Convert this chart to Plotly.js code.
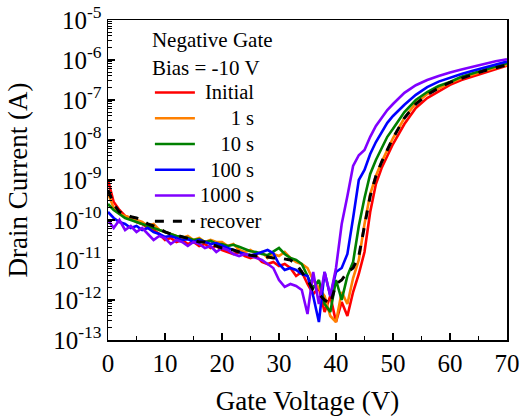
<!DOCTYPE html>
<html>
<head>
<meta charset="utf-8">
<script src="https://cdn.plot.ly/plotly-3.0.1.min.js"></script>
<style>html,body{margin:0;padding:0;background:#fff;}#chart{width:520px;height:416px;}</style>
</head>
<body>
<div id="chart"></div>
<script>
// Gate voltage (V)
const gateVoltage = [0,1,2,3,4,5,6,7,8,9,10,11,12,13,14,15,16,17,18,19,20,21,22,23,24,25,26,27,28,29,30,31,32,33,34,35,36,37,38,39,40,41,42,43,44,45,46,47,48,49,50,52,54,56,58,60,62,64,66,68,70];

// log10 of drain current (A)
const initialLog = [-9.0,-9.55,-9.75,-9.9,-9.95,-10.05,-10.1,-10.2,-10.25,-10.35,-10.5,-10.45,-10.55,-10.5,-10.6,-10.55,-10.65,-10.6,-10.7,-10.65,-10.75,-10.8,-10.85,-10.8,-10.9,-10.95,-10.9,-11.05,-11.1,-11.05,-11.15,-11.1,-11.2,-11.4,-11.3,-11.6,-11.85,-11.7,-12.3,-11.9,-12.55,-12.05,-12.4,-11.8,-11.35,-10.8,-9.8,-9.1,-8.7,-8.4,-8.1,-7.6,-7.2,-6.95,-6.78,-6.62,-6.5,-6.41,-6.31,-6.22,-6.14];
const s1Log = [-9.33,-9.7,-9.85,-9.9,-9.95,-10.0,-10.05,-10.15,-10.1,-10.25,-10.3,-10.35,-10.4,-10.45,-10.4,-10.5,-10.45,-10.55,-10.5,-10.55,-10.55,-10.65,-10.6,-10.75,-10.8,-10.75,-10.85,-10.8,-10.95,-10.85,-10.9,-10.8,-10.95,-11.05,-11.1,-11.2,-11.5,-11.7,-11.9,-12.4,-12.55,-11.8,-12.1,-11.45,-11.0,-10.1,-9.35,-8.9,-8.55,-8.25,-7.95,-7.45,-7.08,-6.85,-6.7,-6.57,-6.45,-6.36,-6.27,-6.19,-6.12];
const s10Log = [-9.6,-9.75,-9.85,-9.95,-10.0,-10.05,-10.1,-10.15,-10.2,-10.25,-10.3,-10.35,-10.4,-10.42,-10.45,-10.5,-10.48,-10.55,-10.52,-10.6,-10.6,-10.65,-10.62,-10.67,-10.72,-10.78,-10.8,-10.85,-10.88,-10.8,-10.7,-10.85,-10.95,-11.0,-11.1,-11.4,-11.7,-11.5,-12.1,-12.3,-11.5,-12.0,-11.4,-11.05,-10.15,-9.45,-8.85,-8.5,-8.2,-7.92,-7.72,-7.3,-7.0,-6.8,-6.65,-6.55,-6.42,-6.33,-6.24,-6.16,-6.08];
const s100Log = [-9.8,-9.95,-10.05,-10.1,-10.2,-10.15,-10.25,-10.2,-10.3,-10.35,-10.42,-10.4,-10.45,-10.5,-10.48,-10.55,-10.5,-10.55,-10.6,-10.58,-10.65,-10.7,-10.75,-10.8,-10.85,-10.88,-10.85,-10.8,-10.75,-10.83,-11.1,-11.25,-11.2,-11.25,-11.35,-11.4,-11.9,-12.55,-11.3,-11.9,-11.3,-11.2,-10.85,-9.95,-9.0,-8.75,-8.35,-8.05,-7.8,-7.57,-7.4,-7.12,-6.87,-6.68,-6.54,-6.44,-6.35,-6.27,-6.19,-6.11,-6.04];
const s1000Log = [-10.0,-10.2,-10.0,-10.25,-10.15,-10.3,-10.2,-10.35,-10.5,-10.4,-10.45,-10.6,-10.5,-10.55,-10.65,-10.55,-10.6,-10.7,-10.65,-10.8,-10.7,-10.75,-10.85,-10.9,-10.85,-10.9,-10.95,-11.0,-11.1,-11.2,-11.5,-11.67,-11.6,-11.65,-11.75,-12.35,-11.3,-12.1,-11.3,-11.9,-11.2,-10.1,-9.4,-8.65,-8.38,-8.25,-7.92,-7.65,-7.45,-7.25,-7.1,-6.82,-6.63,-6.5,-6.4,-6.31,-6.24,-6.17,-6.09,-6.03,-5.98];
const recoverLog = [-9.25,-9.6,-9.8,-9.85,-9.92,-9.95,-10.0,-10.1,-10.15,-10.2,-10.3,-10.35,-10.38,-10.42,-10.45,-10.5,-10.55,-10.55,-10.6,-10.65,-10.7,-10.72,-10.75,-10.8,-10.85,-10.88,-10.9,-10.9,-10.92,-10.95,-10.95,-10.97,-11.0,-11.1,-11.3,-11.5,-11.75,-11.85,-12.0,-12.1,-11.6,-11.5,-11.3,-11.2,-10.9,-10.15,-9.4,-8.9,-8.55,-8.25,-7.95,-7.45,-7.1,-6.87,-6.7,-6.56,-6.45,-6.36,-6.27,-6.19,-6.12];

const seriesNames = ['\u00a0Initial','\u00a0\u00a0\u00a0\u00a0\u00a0\u00a01 s','\u00a0\u00a0\u00a0\u00a010 s','\u00a0\u00a0100 s','1000 s','recover'];
const seriesLogs = [initialLog, s1Log, s10Log, s100Log, s1000Log, recoverLog];
const seriesColors = ['#ff0000','#ff8000','#008000','#0000ff','#8000ff','#000000'];
const seriesDash = ['solid','solid','solid','solid','solid','dash'];

const yTickVals = [1e-13,1e-12,1e-11,1e-10,1e-9,1e-8,1e-7,1e-6,1e-5];
const yTickText = ['10<sup>-13</sup>','10<sup>-12</sup>','10<sup>-11</sup>','10<sup>-10</sup>','10<sup>-9</sup>','10<sup>-8</sup>','10<sup>-7</sup>','10<sup>-6</sup>','10<sup>-5</sup>'];

const FONT = '"Liberation Serif", "Times New Roman", serif';

const traces = seriesLogs.map((arr, i) => ({
  x: gateVoltage,
  y: arr.map(v => Math.pow(10, v)),
  type: 'scatter',
  mode: 'lines',
  name: '<span style="font-size:20.5px">' + seriesNames[i] + '</span>',
  line: {color: seriesColors[i], width: i === 5 ? 3 : 2.6, dash: seriesDash[i]}
}));

const layout = {
  width: 520, height: 416,
  margin: {l: 108, r: 13, t: 20, b: 76},
  paper_bgcolor: '#fff', plot_bgcolor: '#fff',
  font: {family: FONT, color: '#000', size: 22},
  showlegend: true,
  legend: {
    x: 0.105, y: 1.0, xanchor: 'left', yanchor: 'top',
    bgcolor: 'rgba(0,0,0,0)',
    font: {family: FONT, size: 17.5, color: '#000'},
    title: {text: 'Negative Gate<br>Bias = -10 V', font: {family: FONT, size: 21, color: '#000'}},
    itemwidth: 40,
    tracegroupgap: 0
  },
  xaxis: {
    range: [0, 70],
    tickvals: [0,10,20,30,40,50,60,70],
    ticks: 'inside', ticklen: 7, tickwidth: 1.2, tickcolor: '#000',
    showline: true, linecolor: '#000', linewidth: 1.5, mirror: true,
    showgrid: false, zeroline: false,
    tickfont: {family: FONT, size: 25, color: '#000'},
    minor: {ticks: 'inside', ticklen: 4, dtick: 5, tickcolor: '#000', tickwidth: 1},
    title: {text: 'Gate Voltage (V)', font: {family: FONT, size: 27, color: '#000'}, standoff: 16}
  },
  yaxis: {
    type: 'log',
    range: [-13, -5],
    tickvals: yTickVals, ticktext: yTickText,
    ticks: 'inside', ticklen: 7, tickwidth: 1.2, tickcolor: '#000',
    showline: true, linecolor: '#000', linewidth: 1.5, mirror: true,
    showgrid: false, zeroline: false,
    tickfont: {family: FONT, size: 25, color: '#000'},
    minor: {ticks: 'inside', ticklen: 3.5, dtick: 'D1', tickcolor: '#000', tickwidth: 1},
    title: {text: 'Drain Current (A)', font: {family: FONT, size: 27, color: '#000'}, standoff: 17}
  }
};

Plotly.newPlot('chart', traces, layout, {staticPlot: true, displayModeBar: false});
</script>
</body>
</html>
